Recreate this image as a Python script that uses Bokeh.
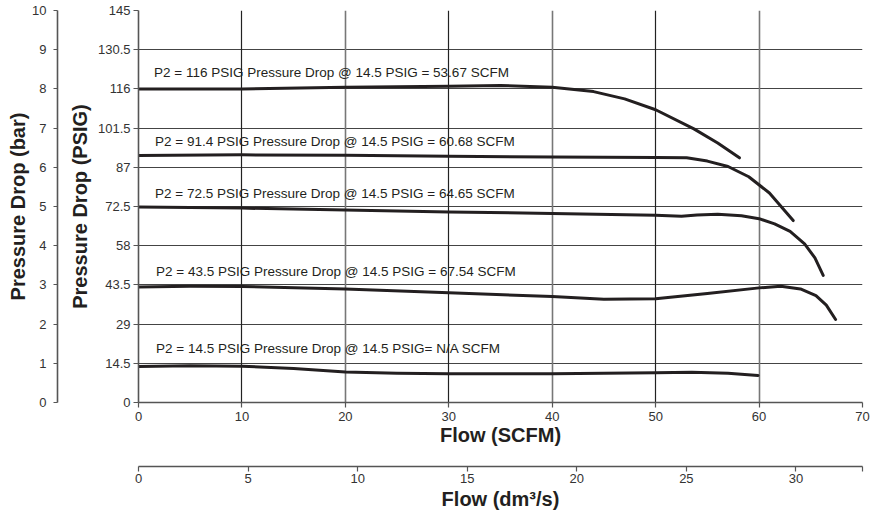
from bokeh.plotting import figure
from bokeh.models import Range1d, FixedTicker, Grid
from bokeh.layouts import row, column
from bokeh.core.properties import value
from bokeh.embed import file_html
from bokeh.resources import INLINE

# ---------------- data ----------------
scfm_ticks = [0, 10, 20, 30, 40, 50, 60, 70]
psig_ticks = [0, 14.5, 29, 43.5, 58, 72.5, 87, 101.5, 116, 130.5, 145]
psig_labels = ["0", "14.5", "29", "43.5", "58", "72.5", "87", "101.5", "116", "130.5", "145"]
bar_ticks = [0, 1, 2, 3, 4, 5, 6, 7, 8, 9, 10]
dm_ticks = [0, 5, 10, 15, 20, 25, 30]
SCFM_PER_DM3S = 2.11888

# P2 = 116 PSIG
x116 = [0, 10, 20, 30, 35, 40, 44, 47, 50, 53.7, 56, 58.1]
y116 = [116.0, 116.0, 116.6, 117.0, 117.3, 116.6, 115.0, 112.3, 108.3, 101.2, 96.0, 90.5]
# P2 = 91.4 PSIG
x914 = [0, 10, 20, 30, 40, 50, 53, 55, 57, 59, 61, 63.3]
y914 = [91.4, 91.6, 91.5, 91.1, 90.8, 90.6, 90.5, 89.3, 87.3, 83.5, 77.5, 67.3]
# P2 = 72.5 PSIG
x725 = [0, 10, 20, 30, 40, 50, 52.5, 54, 56, 58.3, 60, 61.5, 63, 64.4, 65.4, 66.2]
y725 = [72.3, 71.9, 71.2, 70.5, 69.9, 69.3, 68.9, 69.4, 69.6, 69.1, 68.0, 66.1, 63.3, 58.7, 53.5, 47.0]
# P2 = 43.5 PSIG
x435 = [0, 5, 10, 20, 30, 40, 45, 50, 55, 60, 62.1, 64, 65.5, 66.5, 67.4]
y435 = [42.7, 43.0, 42.9, 42.0, 40.6, 39.2, 38.2, 38.4, 40.3, 42.4, 43.0, 42.0, 39.5, 36.0, 30.7]
# P2 = 14.5 PSIG
x145 = [0, 5, 10, 15, 20, 25, 30, 40, 50, 53.5, 57, 59.9]
y145 = [13.3, 13.6, 13.4, 12.6, 11.3, 10.8, 10.6, 10.6, 11.0, 11.2, 10.8, 10.0]

label_texts = [
    "P2 = 116 PSIG Pressure Drop @ 14.5 PSIG = 53.67 SCFM",
    "P2 = 91.4  PSIG Pressure Drop @ 14.5 PSIG = 60.68 SCFM",
    "P2 = 72.5 PSIG Pressure Drop @ 14.5 PSIG = 64.65 SCFM",
    "P2 = 43.5 PSIG Pressure Drop @ 14.5 PSIG = 67.54 SCFM",
    "P2 = 14.5 PSIG Pressure Drop @ 14.5 PSIG= N/A SCFM",
]
label_x = [1.5, 1.6, 1.6, 1.7, 1.7]
label_y = [122.0, 96.4, 77.3, 48.3, 19.9]

# ---------------- styling helpers ----------------
FONT = "Liberation Sans"
INK = "#231f20"
AX = "#555555"


def style_axis(ax, label_standoff=4, title_standoff=4, tick_out=5):
    ax.axis_line_color = AX
    ax.axis_line_width = 1.6
    ax.major_tick_line_color = AX
    ax.major_tick_line_width = 1.2
    ax.major_tick_out = tick_out
    ax.major_tick_in = 0
    ax.minor_tick_line_color = None
    ax.major_label_text_font = FONT
    ax.major_label_text_font_size = "13px"
    ax.major_label_text_color = "#333333"
    ax.major_label_standoff = label_standoff
    ax.axis_label_text_font = FONT
    ax.axis_label_text_font_size = "20px"
    ax.axis_label_text_font_style = "bold"
    ax.axis_label_text_color = INK
    ax.axis_label_standoff = title_standoff


def bare(fig):
    fig.outline_line_color = None
    fig.background_fill_color = "white"
    fig.border_fill_color = "white"
    fig.xgrid.visible = False
    fig.ygrid.visible = False


# ---------------- bar axis (left strip) ----------------
bar_fig = figure(width=60, height=514, output_backend="svg", toolbar_location=None,
                 x_range=Range1d(0, 1), y_range=Range1d(0, 10), x_axis_type=None,
                 min_border_left=57, min_border_right=0, min_border_top=10, min_border_bottom=112)
bare(bar_fig)
bax = bar_fig.yaxis[0]
bax.ticker = FixedTicker(ticks=bar_ticks)
bax.axis_label = "Pressure Drop (bar)"
style_axis(bax, label_standoff=7, title_standoff=0, tick_out=4)

# ---------------- main chart ----------------
p = figure(width=810, height=465, output_backend="svg", toolbar_location=None,
           x_range=Range1d(0, 70), y_range=Range1d(0, 145),
           min_border_left=78, min_border_right=8, min_border_top=10, min_border_bottom=63)
bare(p)
p.add_layout(Grid(dimension=1, ticker=FixedTicker(ticks=psig_ticks[1:]), grid_line_color="#444444", grid_line_width=1.2))
p.add_layout(Grid(dimension=0, ticker=FixedTicker(ticks=[10, 30, 50, 70]), grid_line_color="#222222", grid_line_width=1.2))
p.add_layout(Grid(dimension=0, ticker=FixedTicker(ticks=[20, 40, 60]), grid_line_color="#777777", grid_line_width=1.6))

yax = p.yaxis[0]
yax.ticker = FixedTicker(ticks=psig_ticks)
yax.major_label_overrides = {t: s for t, s in zip(psig_ticks, psig_labels)}
yax.axis_label = "Pressure Drop (PSIG)"
style_axis(yax, label_standoff=3, title_standoff=4)

xax = p.xaxis[0]
xax.ticker = FixedTicker(ticks=scfm_ticks)
xax.axis_label = "Flow (SCFM)"
style_axis(xax, label_standoff=4, title_standoff=0)

for xs, ys in [(x116, y116), (x914, y914), (x725, y725), (x435, y435), (x145, y145)]:
    p.line(xs, ys, line_color=INK, line_width=3, line_join="round", line_cap="round")

p.text(x=label_x, y=label_y, text=label_texts, text_font=value(FONT),
       text_font_size="13.5px", text_color=INK, text_align="left", text_baseline="middle")

# ---------------- dm3/s axis (bottom strip) ----------------
dm_fig = figure(width=810, height=49, output_backend="svg", toolbar_location=None,
                x_range=Range1d(0, 70 / SCFM_PER_DM3S), y_range=Range1d(0, 1), y_axis_type=None,
                min_border_left=78, min_border_right=8, min_border_top=0, min_border_bottom=48)
bare(dm_fig)
dax = dm_fig.xaxis[0]
dax.ticker = FixedTicker(ticks=dm_ticks, minor_ticks=[70 / SCFM_PER_DM3S])
dax.axis_label = "Flow (dm³/s)"
style_axis(dax, label_standoff=2, title_standoff=2)
dax.minor_tick_line_color = AX
dax.minor_tick_line_width = 1.2
dax.minor_tick_out = 5
dax.minor_tick_in = 0

layout = row(bar_fig, column(p, dm_fig, spacing=0), spacing=0)
open("out.html", "w").write(file_html(layout, INLINE))
